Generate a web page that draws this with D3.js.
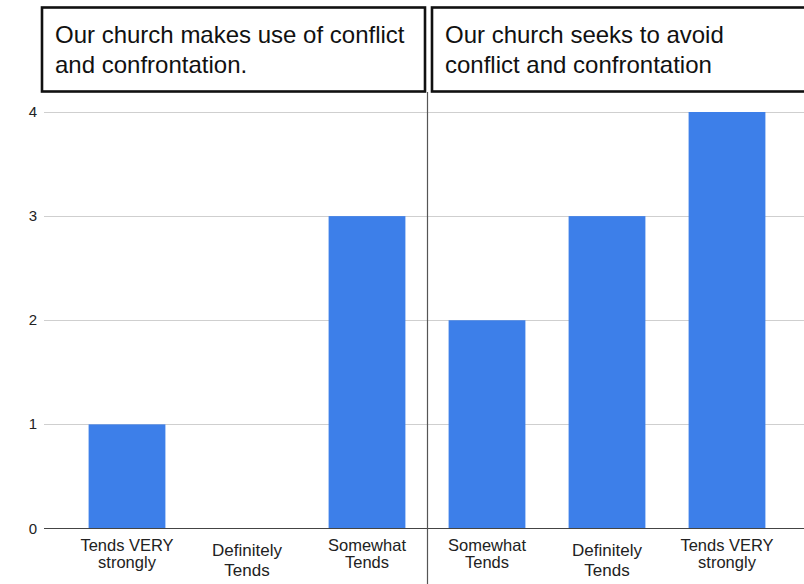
<!DOCTYPE html>
<html>
<head>
<meta charset="utf-8">
<script src="https://cdn.jsdelivr.net/npm/d3@7"></script>
<style>
  html, body { margin: 0; padding: 0; background: #fff; }
  svg { display: block; font-family: "Liberation Sans", Arial, sans-serif; }
</style>
</head>
<body>
<svg id="chart" width="804" height="584"></svg>
<script>
// Response categories for the two statements (left panel, right panel)
const categoryIds = ["l1", "l2", "l3", "r1", "r2", "r3"];
const categoryLabels = [
  ["Tends VERY", "strongly"],
  ["Definitely", "Tends"],
  ["Somewhat", "Tends"],
  ["Somewhat", "Tends"],
  ["Definitely", "Tends"],
  ["Tends VERY", "strongly"]
];
// Number of responses per category
const counts = [1, 0, 3, 2, 3, 4];
const yTicks = [0, 1, 2, 3, 4];
const panelTitles = [
  ["Our church makes use of conflict", "and confrontation."],
  ["Our church seeks to avoid", "conflict and confrontation"]
];

const svg = d3.select("#chart");
const W = 804, H = 584;

const x = d3.scaleBand()
  .domain(categoryIds)
  .range([67, 787])
  .paddingInner(0.36)
  .paddingOuter(0.18);

const y = d3.scaleLinear().domain([0, 4]).range([528.5, 112]);

// gridlines
svg.append("g")
  .selectAll("line")
  .data(yTicks.filter(d => d > 0))
  .join("line")
  .attr("x1", 44).attr("x2", W)
  .attr("y1", d => Math.round(y(d)) + 0.5)
  .attr("y2", d => Math.round(y(d)) + 0.5)
  .attr("stroke", "#cfcfcf").attr("stroke-width", 1.2);

// y tick labels
svg.append("g")
  .selectAll("text")
  .data(yTicks)
  .join("text")
  .attr("x", 33).attr("y", d => y(d) + 5)
  .attr("text-anchor", "middle")
  .attr("font-size", 15)
  .attr("fill", "#222")
  .text(d => d);

// bars
svg.append("g")
  .selectAll("rect")
  .data(categoryIds.map((id, i) => ({ id, v: counts[i] })))
  .join("rect")
  .attr("x", d => x(d.id))
  .attr("width", x.bandwidth())
  .attr("y", d => y(d.v))
  .attr("height", d => y(0) - y(d.v))
  .attr("fill", "#3d7fe9");

// baseline
svg.append("line")
  .attr("x1", 44).attr("x2", W)
  .attr("y1", y(0)).attr("y2", y(0))
  .attr("stroke", "#444").attr("stroke-width", 1.2);

// panel divider
svg.append("line")
  .attr("x1", 427.5).attr("x2", 427.5)
  .attr("y1", 92).attr("y2", H)
  .attr("stroke", "#555").attr("stroke-width", 1.2);

// x category labels
const lab = svg.append("g");
categoryIds.forEach((id, i) => {
  const cx = x(id) + x.bandwidth() / 2;
  const isDef = categoryLabels[i][0] === "Definitely";
  const t = lab.append("text")
    .attr("text-anchor", "middle")
    .attr("font-size", isDef ? 17 : 16.5)
    .attr("fill", "#222");
  t.append("tspan").attr("x", cx).attr("y", isDef ? 556 : 551).text(categoryLabels[i][0]);
  t.append("tspan").attr("x", cx).attr("y", isDef ? 576 : 568).text(categoryLabels[i][1]);
});

// panel title boxes
const boxes = [
  { x0: 42, x1: 425, tx: 55 },
  { x0: 432, x1: 812, tx: 445 }
];
boxes.forEach((b, i) => {
  svg.append("rect")
    .attr("x", b.x0).attr("y", 7.5)
    .attr("width", b.x1 - b.x0).attr("height", 84)
    .attr("fill", "#fff")
    .attr("stroke", "#111").attr("stroke-width", 2.6);
  const t = svg.append("text")
    .attr("font-size", 24)
    .attr("fill", "#111");
  t.append("tspan").attr("x", b.tx).attr("y", 43).text(panelTitles[i][0]);
  t.append("tspan").attr("x", b.tx).attr("y", 73).text(panelTitles[i][1]);
});
</script>
</body>
</html>
